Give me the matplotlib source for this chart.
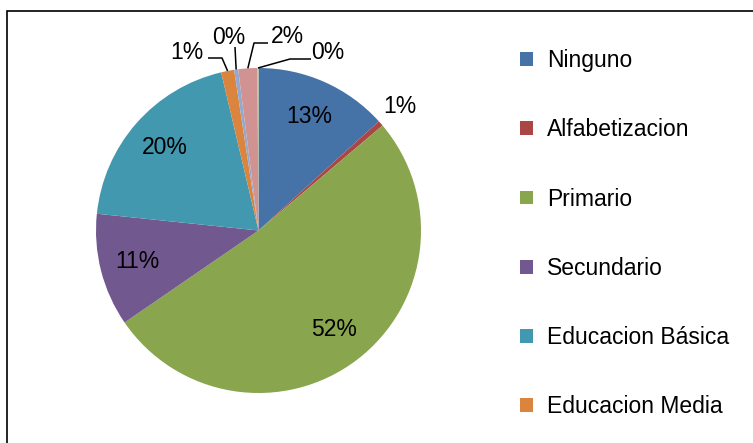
import numpy as np
import matplotlib
matplotlib.use("Agg")
import matplotlib.pyplot as plt
from matplotlib.patches import Rectangle

plt.rcParams['font.family'] = ['Liberation Sans', 'DejaVu Sans']

# data (percent of total)
categories = ['Ninguno', 'Alfabetizacion', 'Primario', 'Secundario',
              'Educacion Básica', 'Educacion Media', 'Tecnico Superior',
              'Universitario', 'Postgrado']
values = [13.3, 0.55, 51.7, 11.25, 19.7, 1.3, 0.4, 1.9, 0.1]
colors = ['#4572A7', '#AA4643', '#89A54E', '#71588F', '#4198AF',
          '#DB843D', '#93A9CF', '#D19392', '#B9CD96']

W, H = 753, 443
fig = plt.figure(figsize=(W / 100, H / 100), dpi=100)
ax = fig.add_axes([0, 0, 1, 1])

cx, cy, r = 258.5, H - 230.5, 162.5
wedges, _ = ax.pie(values, colors=colors, startangle=90, counterclock=False,
                   center=(cx, cy), radius=r,
                   wedgeprops=dict(linewidth=0))
ax.set_xlim(0, W)
ax.set_ylim(0, H)
ax.set_aspect('equal')
ax.axis('off')

total = sum(values)
pct = [f"{v / total * 100:.0f}%" for v in values]
fs = 16.5

def mid_angle(w):
    return np.deg2rad((w.theta1 + w.theta2) / 2)

# labels inside the big slices, plus the outside one without leader
for i in [0, 2, 3, 4]:
    a = mid_angle(wedges[i])
    ax.text(cx + 0.77 * r * np.cos(a), cy + 0.77 * r * np.sin(a), pct[i],
            ha='center', va='center', fontsize=fs)
a = mid_angle(wedges[1])
ax.text(cx + 1.16 * r * np.cos(a), cy + 1.16 * r * np.sin(a), pct[1],
        ha='center', va='center', fontsize=fs)

# small top slices: text position and elbow of leader line (pixels from top-left)
leaders = {
    5: ((187, 52), (222, 58), (208, 58)),
    6: ((229, 37), (235, 47), (235, 47)),
    7: ((287, 36), (254, 43), (268, 43)),
    8: ((328, 52), (290, 59), (311, 59)),
}
for i, ((tx, ty), (ex, ey), (sx, sy)) in leaders.items():
    a = mid_angle(wedges[i])
    px, py = cx + r * np.cos(a), cy + r * np.sin(a)
    ax.plot([px, ex, sx], [py, H - ey, H - sy], color='black', lw=1.1,
            solid_capstyle='butt')
    ax.text(tx, H - ty, pct[i], ha='center', va='center', fontsize=fs)

# legend only has room for the first six entries, like the reference
leg = ax.legend(wedges[:6], categories[:6], loc='upper left',
                bbox_to_anchor=(520 / W, 1 - 49 / H), frameon=False,
                fontsize=fs, handlelength=0.55, handleheight=0.55,
                handletextpad=0.63, labelspacing=2.02, borderaxespad=0,
                borderpad=0)

fig.add_artist(Rectangle((7 / W, -0.1), 1.2, 1.1 - 11 / H,
                         transform=fig.transFigure, fill=False,
                         edgecolor='black', lw=1.2))

fig.savefig('out.png', dpi=100)
